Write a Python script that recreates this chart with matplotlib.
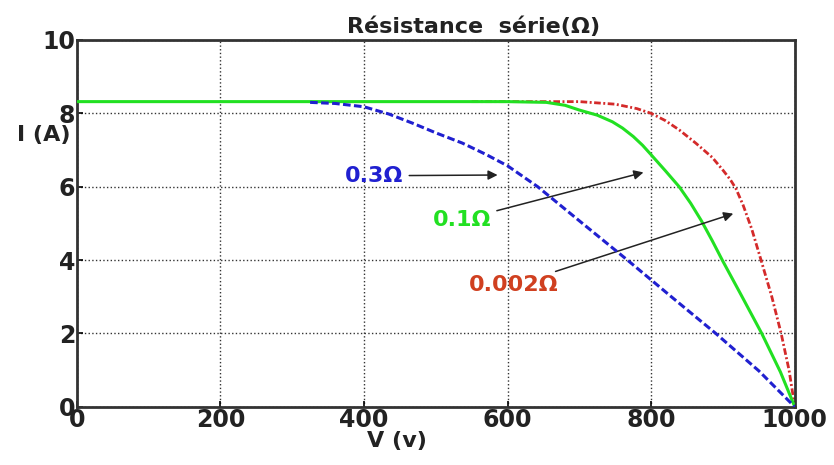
import numpy as np
import matplotlib.pyplot as plt

plt.rcParams['font.family'] = ['DejaVu Sans']

# courbes I-V
v_03 = [325, 360, 400, 435, 468, 500, 537, 570, 600, 642, 700, 767, 830, 890, 950, 1000]
i_03 = [8.3, 8.27, 8.18, 7.98, 7.73, 7.47, 7.19, 6.88, 6.57, 6.0, 5.07, 4.0, 2.97, 2.0, 0.98, 0.0]

v_01 = [0, 300, 600, 654, 680, 700, 725, 746, 760, 775, 788, 800, 820, 839, 855, 870, 885,
        899, 925, 954, 980, 1000]
i_01 = [8.32, 8.32, 8.32, 8.3, 8.22, 8.09, 7.95, 7.77, 7.6, 7.37, 7.13, 6.87, 6.43, 6.0, 5.55,
        5.07, 4.53, 4.0, 3.06, 2.0, 0.95, 0.0]

v_0002 = [550, 700, 750, 780, 800, 820, 839, 862, 885, 900, 910, 918, 928, 940, 953, 968, 981,
          992, 1000]
i_0002 = [8.32, 8.32, 8.25, 8.13, 8.0, 7.8, 7.55, 7.19, 6.8, 6.45, 6.2, 5.95, 5.5, 4.85, 4.0,
          3.0, 2.0, 1.0, 0.0]

xticks = [0, 200, 400, 600, 800, 1000]
yticks = [0, 2, 4, 6, 8, 10]

fig = plt.figure(figsize=(8.34, 4.65), dpi=100)
ax = fig.add_axes([0.092, 0.125, 0.861, 0.789])

ax.plot(v_01, i_01, color='#22e022', lw=2.2, ls='-', zorder=3)
ax.plot(v_03, i_03, color='#2020d0', lw=2.2, ls=(0, (2.5, 1.1)), zorder=4)
ax.plot(v_0002, i_0002, color='#d42a2a', lw=2.0, ls=(0, (2.4, 0.9, 0.7, 0.9)), zorder=2)

ax.set_xlim(0, 1000)
ax.set_ylim(0, 10)
ax.set_xticks(xticks)
ax.set_yticks(yticks)
ax.grid(True, color='#333333', ls=':', lw=1.0)
for s in ax.spines.values():
    s.set_linewidth(2)
    s.set_color('#333333')
ax.tick_params(direction='in', length=4, width=1.2, labelsize=17, pad=1)
for lab in ax.get_xticklabels() + ax.get_yticklabels():
    lab.set_fontweight('bold')
    lab.set_color('#222222')

ax.set_title('Résistance  série(Ω)', fontsize=16, fontweight='bold', color='#222222',
             x=0.553, pad=5)
fig.text(0.052, 0.71, 'I (A)', fontsize=16, fontweight='bold', color='#222222',
         ha='center', va='center')
fig.text(0.476, 0.052, 'V (v)', fontsize=16, fontweight='bold', color='#222222',
         ha='center', va='center')

arrow = dict(arrowstyle='-|>', color='#222222', lw=1.1, mutation_scale=14)
ax.annotate('0.3Ω', xy=(590, 6.32), xytext=(374, 6.3), color='#2020d0',
            fontsize=16, fontweight='bold', va='center', arrowprops=arrow)
ax.annotate('0.1Ω', xy=(793, 6.41), xytext=(496, 5.1), color='#22e022',
            fontsize=16, fontweight='bold', va='center', arrowprops=arrow)
ax.annotate('0.002Ω', xy=(918, 5.29), xytext=(546, 3.32), color='#d04020',
            fontsize=16, fontweight='bold', va='center', arrowprops=arrow)

fig.savefig('out.png', dpi=100)
